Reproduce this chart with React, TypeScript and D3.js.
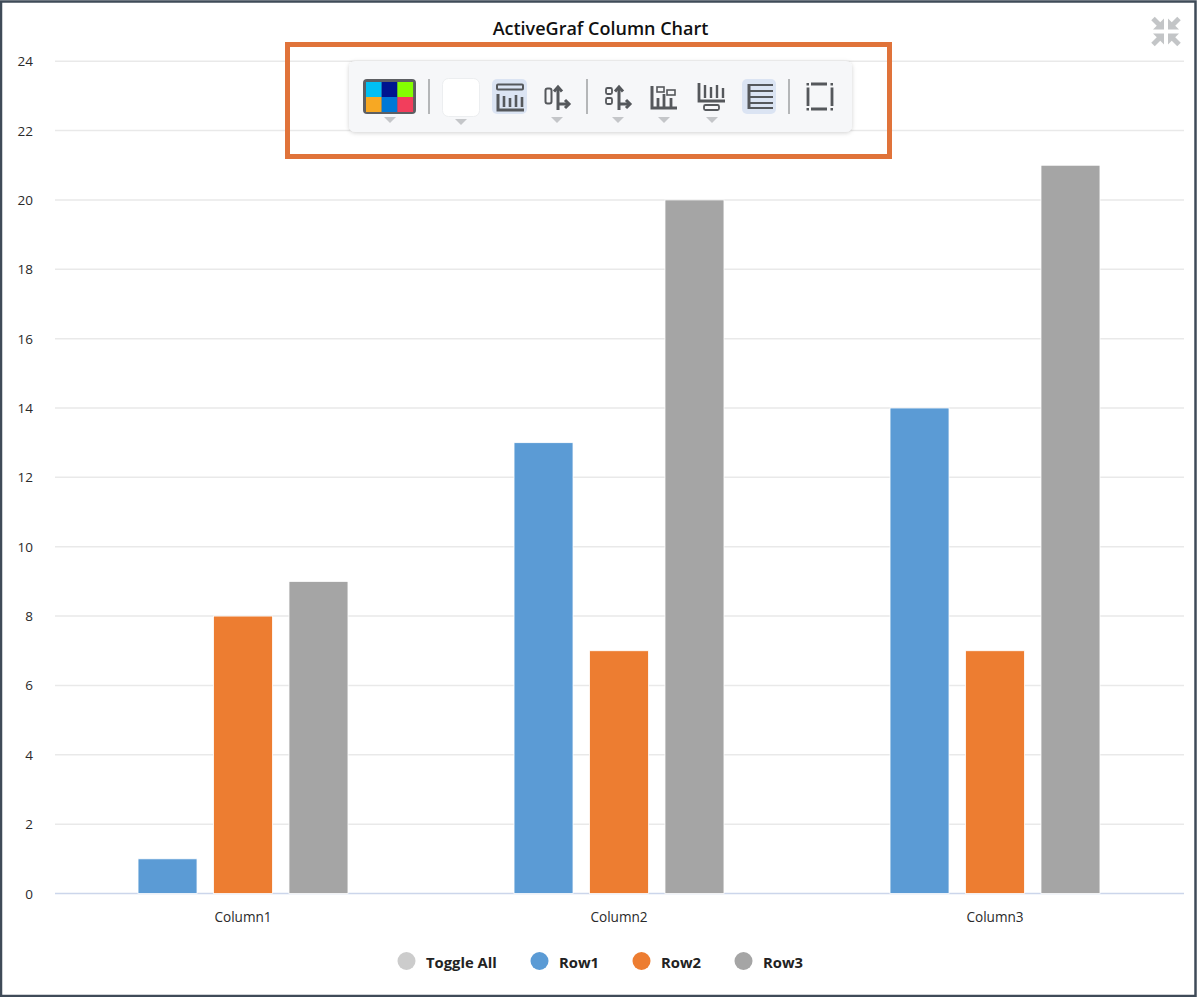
import React from "react";
import * as d3 from "d3";

const title = "ActiveGraf Column Chart";
const columns = ["Column1", "Column2", "Column3"];
const rows = ["Row1", "Row2", "Row3"];
const row1Values = [1, 13, 14];
const row2Values = [8, 7, 7];
const row3Values = [9, 20, 21];
const rowColors = ["#5b9bd5", "#ed7d31", "#a5a5a5"];
const yTicks = [0, 2, 4, 6, 8, 10, 12, 14, 16, 18, 20, 22, 24];
const legendLabels = ["Toggle All", "Row1", "Row2", "Row3"];
const legendColors = ["#cccccc", "#5b9bd5", "#ed7d31", "#a5a5a5"];
const legendDotX = [406.5, 539.5, 641.5, 743.5];
const paletteColors = ["#00bff3", "#00158f", "#84ff00", "#f7a823", "#0078d7", "#f23e5c"];

const W = 1197, H = 997;
const FONT = "'Open Sans', 'Noto Sans', sans-serif";
const ICON = "#55585c";

const x0 = d3.scaleBand<string>().domain(columns).range([55, 1183]);
const x1 = d3.scaleBand<string>().domain(rows).range([0, x0.bandwidth()]).paddingInner(0.2185).paddingOuter(1.1);
const y = d3.scaleLinear().domain([0, 24]).range([893.5, 61.2]);
const series = [row1Values, row2Values, row3Values];

const Tri = ({ cx, cy }: { cx: number; cy: number }) => (
  <path d={`M${cx - 6},${cy - 3}L${cx + 6},${cy - 3}L${cx},${cy + 3}Z`} fill="#c4c6c9" />
);
const Sep = ({ x }: { x: number }) => <rect x={x - 1} y={79} width={2} height={35} fill="#b4b6b8" />;

// Two-way axis arrow used by the axis toolbar buttons
const AxisArrow = ({ x }: { x: number }) => (
  <g stroke={ICON} fill="none" strokeWidth={3}>
    <path d={`M${x},87V110`} />
    <path d={`M${x - 4},91.5L${x},87L${x + 4},91.5`} />
    <path d={`M${x},104H${x + 11}`} />
    <path d={`M${x + 7},100L${x + 11},104L${x + 7},108`} />
  </g>
);

const Toolbar = () => (
  <g>
    <rect x={287.5} y={44.5} width={602} height={112} fill="none" stroke="#e0733a" strokeWidth={5} />
    <rect x={349} y={61} width={503} height={71} rx={6} fill="#f6f7f9" filter="url(#tbShadow)" />
    {/* palette */}
    <rect x={363} y={79} width={53} height={35} rx={4} fill="#5d5f63" />
    {paletteColors.map((c, i) => (
      <rect key={c} x={366 + (i % 3) * 15.7} y={82 + Math.floor(i / 3) * 15} width={15.7} height={15} fill={c} />
    ))}
    <Tri cx={390} cy={120} />
    <Sep x={429} />
    {/* blank swatch */}
    <rect x={442.5} y={78.5} width={37} height={38} rx={6} fill="#fff" stroke="#eceef0" />
    <Tri cx={461} cy={122} />
    {/* title-on button */}
    <rect x={492} y={79} width={35} height={35} rx={5} fill="#dbe4f3" />
    <g stroke={ICON} fill="none">
      <rect x={497} y={84.5} width={26} height={5} rx={1} strokeWidth={2} />
      <path d="M498,94V110H524" strokeWidth={3} />
      <path d="M504,96V107M510,98V107M516,95V107M522,97V107" strokeWidth={2.6} />
    </g>
    {/* axis toggle */}
    <rect x={545.5} y={88.5} width={6} height={15} rx={2} fill="none" stroke={ICON} strokeWidth={2} />
    <AxisArrow x={558} />
    <Tri cx={557} cy={120} />
    <Sep x={587} />
    {/* axis titles */}
    <rect x={606} y={88} width={6} height={6} rx={1.5} fill="none" stroke={ICON} strokeWidth={1.8} />
    <rect x={606} y={98} width={6} height={6} rx={1.5} fill="none" stroke={ICON} strokeWidth={1.8} />
    <AxisArrow x={619} />
    <Tri cx={618} cy={120} />
    {/* data labels */}
    <g stroke={ICON} fill="none">
      <path d="M652,86V108H677" strokeWidth={3} />
      <path d="M658,98V107M664,94V107M671,98V107" strokeWidth={2.8} />
      <rect x={657} y={87} width={7} height={5} strokeWidth={1.6} />
      <rect x={667} y={90} width={8} height={5} strokeWidth={1.6} />
    </g>
    <Tri cx={664} cy={120} />
    {/* legend */}
    <g stroke={ICON} fill="none">
      <path d="M699,83V101H725" strokeWidth={2.8} />
      <path d="M705,85V98M711,87V98M717,85V98M723,88V98" strokeWidth={2.4} />
      <rect x={704} y={105} width={15} height={5} rx={1.5} strokeWidth={1.8} />
    </g>
    <Tri cx={712} cy={120} />
    {/* gridlines on */}
    <rect x={742} y={79} width={34} height={35} rx={5} fill="#dbe4f3" />
    <g stroke={ICON} fill="none">
      <path d="M749,84V109" strokeWidth={3} />
      <path d="M749,85H773M749,91H773M749,97H773M749,103H773M749,108H773" strokeWidth={2} />
    </g>
    <Sep x={789} />
    {/* plot area */}
    <g stroke={ICON} fill="none" strokeWidth={2.8}>
      <path d="M811,84H827M811,109H827M808,87.5V106M832,87.5V106" />
    </g>
    <g fill={ICON}>
      <rect x={806.5} y={83} width={2.5} height={2.5} />
      <rect x={830.5} y={83} width={2.5} height={2.5} />
      <rect x={806.5} y={108} width={2.5} height={2.5} />
      <rect x={830.5} y={108} width={2.5} height={2.5} />
    </g>
  </g>
);

const Collapse = () => (
  <g stroke="#c3c5c7" fill="none" strokeWidth={5}>
    {[[1, 1], [-1, 1], [1, -1], [-1, -1]].map(([sx, sy]) => (
      <g key={`${sx}${sy}`} transform={`translate(1166,31.5) scale(${sx},${sy})`}>
        <path d="M-13,-13L-5,-5" />
        <path d="M-2,-13V-2H-13Z" fill="#c3c5c7" stroke="none" />
      </g>
    ))}
  </g>
);

export default function App() {
  return (
    <svg width={W} height={H} style={{ position: "absolute", left: 0, top: 0 }} fontFamily={FONT}>
      <defs>
        <filter id="tbShadow" x="-5%" y="-20%" width="110%" height="140%">
          <feDropShadow dx={0} dy={1} stdDeviation={2} floodColor="#000" floodOpacity={0.18} />
        </filter>
      </defs>
      <rect x={1} y={1.5} width={1194.5} height={994.5} fill="#fff" stroke="#3f4b58" strokeWidth={2.5} />

      {yTicks.map((t) => (
        <g key={t}>
          <line x1={55} x2={1184} y1={y(t)} y2={y(t)} stroke={t === 0 ? "#ccd6eb" : "#e9e9e9"} strokeWidth={1.5} />
          <text x={33} y={y(t) + 5} textAnchor="end" fontSize={13.5} fill="#2a2a2a">{t}</text>
        </g>
      ))}

      {columns.map((c, ci) => (
        <g key={c} transform={`translate(${x0(c)},0)`}>
          {rows.map((r, ri) => (
            <rect key={r} x={x1(r)} y={y(series[ri][ci])} width={x1.bandwidth()}
              height={y(0) - y(series[ri][ci])} fill={rowColors[ri]} stroke="#fff" strokeWidth={0.8} />
          ))}
          <text x={x0.bandwidth() / 2} y={922} textAnchor="middle" fontSize={13.6} fill="#2a2a2a">{c}</text>
        </g>
      ))}

      <text x={600.5} y={35} textAnchor="middle" fontSize={18} fontWeight={600} fill="#111">{title}</text>

      {legendLabels.map((l, i) => (
        <g key={l}>
          <circle cx={legendDotX[i]} cy={961} r={9} fill={legendColors[i]} />
          <text x={legendDotX[i] + 19.5} y={968} fontSize={14.8} fontWeight={700} fill="#222">{l}</text>
        </g>
      ))}

      <Toolbar />
      <Collapse />
    </svg>
  );
}
